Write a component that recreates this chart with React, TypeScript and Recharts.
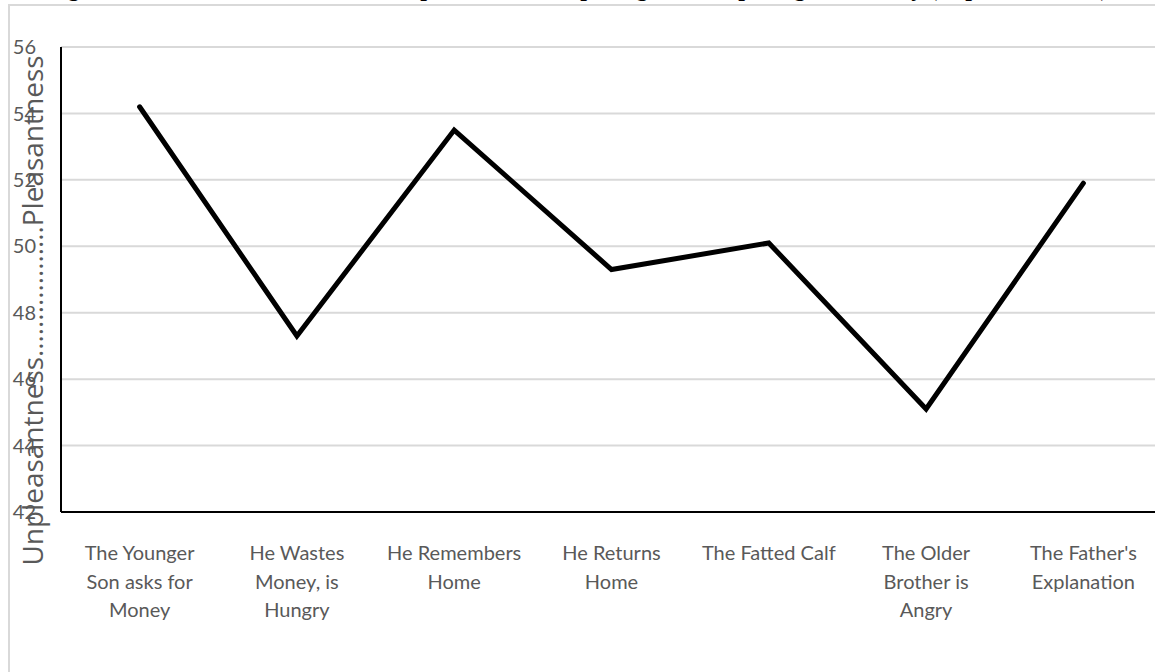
import React from 'react';
import { LineChart, Line, XAxis, YAxis, CartesianGrid, Label } from 'recharts';

const stages = [
  'The Younger Son asks for Money',
  'He Wastes Money, is Hungry',
  'He Remembers Home',
  'He Returns Home',
  'The Fatted Calf',
  'The Older Brother is Angry',
  "The Father's Explanation",
];

// how each category label wraps under the axis
const stageLines = [
  ['The Younger', 'Son asks for', 'Money'],
  ['He Wastes', 'Money, is', 'Hungry'],
  ['He Remembers', 'Home'],
  ['He Returns', 'Home'],
  ['The Fatted Calf'],
  ['The Older', 'Brother is', 'Angry'],
  ["The Father's", 'Explanation'],
];

const pleasantness = [54.2, 47.3, 53.5, 49.3, 50.1, 45.1, 51.9];
const yTicks = [42, 44, 46, 48, 50, 52, 54, 56];
const yTitle = 'Unpleasantness………………Pleasantness';

const chartTitle =
  'Figure 4. Mean emotional scores for pleasantness of passages in the prodigal son story (Experiment one)';

const data = stages.map((stage, i) => ({ stage, value: pleasantness[i] }));

const TEXT = '#595959';
const FONT = 'Lato, "Open Sans", sans-serif';

const StageTick = (props: any) => {
  const { x, y, payload } = props;
  const lines = stageLines[payload.index] || [payload.value];
  return (
    <text x={x} y={y} textAnchor="middle" fill={TEXT} fontSize={20} fontFamily={FONT}>
      {lines.map((ln: string, i: number) => (
        <tspan key={i} x={x} dy={i === 0 ? 40 : 28.5}>
          {ln}
        </tspan>
      ))}
    </text>
  );
};

// rotated axis title, drawn over the tick numbers like the original
const YTitle = (props: any) => {
  const vb = props.viewBox || {};
  const cx = 33;
  const cy = (vb.y ?? 41) + (vb.height ?? 465) / 2 + 31;
  return (
    <text
      x={cx}
      y={cy}
      transform={`rotate(-90, ${cx}, ${cy})`}
      textAnchor="middle"
      fill={TEXT}
      fontSize={28}
      fontFamily='"Open Sans", Lato, sans-serif'
    >
      {yTitle}
    </text>
  );
};

export default function App() {
  return (
    <>
      <div
        style={{
          position: 'absolute',
          left: 0,
          top: -25,
          width: 1155,
          textAlign: 'center',
          fontFamily: '"Liberation Serif", "Times New Roman", serif',
          fontWeight: 'bold',
          fontSize: 24,
          lineHeight: '26px',
          whiteSpace: 'nowrap',
          color: '#000',
        }}
      >
        {chartTitle}
      </div>
      <div
        style={{
          position: 'absolute',
          left: 8,
          top: 4,
          width: 1145,
          height: 666,
          overflow: 'hidden',
          borderLeft: '2px solid #d9d9d9',
          borderTop: '2px solid #d9d9d9',
          background: '#fff',
        }}
      >
        <LineChart
          width={1152}
          height={666}
          data={data}
          margin={{ top: 41, right: 0, bottom: 0, left: 0 }}
        >
          <CartesianGrid vertical={false} stroke="#d9d9d9" strokeWidth={2} />
          <XAxis
            dataKey="stage"
            height={160}
            interval={0}
            padding={{ left: 78.6, right: 78.6 }}
            tickLine={false}
            axisLine={{ stroke: '#000', strokeWidth: 2 }}
            tick={<StageTick />}
          />
          <YAxis
            width={51}
            domain={[42, 56]}
            ticks={yTicks}
            interval={0}
            tickLine={false}
            tickSize={0}
            tickMargin={25}
            axisLine={{ stroke: '#000', strokeWidth: 2 }}
            tick={{ fill: TEXT, fontSize: 20, fontFamily: FONT }}
          >
            <Label content={<YTitle />} />
          </YAxis>
          <Line
            type="linear"
            dataKey="value"
            stroke="#000"
            strokeWidth={5}
            strokeLinecap="round"
            dot={false}
            activeDot={false}
            isAnimationActive={false}
          />
        </LineChart>
      </div>
    </>
  );
}
